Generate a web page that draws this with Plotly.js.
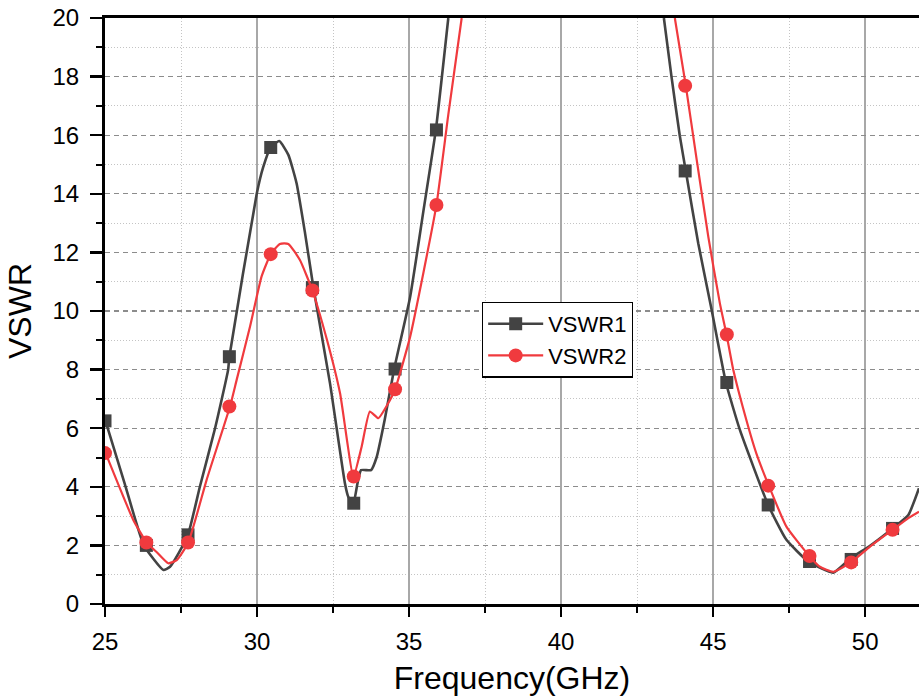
<!DOCTYPE html>
<html>
<head>
<meta charset="utf-8">
<script src="https://cdn.plot.ly/plotly-3.0.1.min.js"></script>
<style>
  html, body { margin: 0; padding: 0; background: #ffffff; }
  #chart { width: 919px; height: 699px; }
</style>
</head>
<body>
<div id="chart"></div>
<script>
// ---- data ----
// VSWR1 curve (null = segment above the plotted range)
const freq1 = [25.0, 25.65, 26.28, 26.92, 27.14, 27.71, 28.12, 28.62, 29.05, 29.09, 29.99, 30.2, 30.45, 30.73, 31.03, 31.3, 31.58, 31.85, 32.4, 32.89, 33.0, 33.17, 33.3, 33.42, 33.75, 33.93, 34.2, 34.51, 35.03, 35.47, 35.88, 36.29,
               null,
               43.38, 43.63, 43.9, 44.1, 44.51, 44.95, 45.42, 45.88, 46.81, 47.41, 48.13, 48.95, 49.5, 50.16, 50.9, 51.42, 51.77];
const vswr1 = [6.3, 4.1, 2.0, 1.16, 1.27, 2.3, 4.0, 6.0, 8.0, 8.44, 14.0, 14.9, 15.58, 15.8, 15.33, 14.36, 12.65, 10.83, 7.53, 4.12, 3.66, 3.44, 4.1, 4.57, 4.57, 5.0, 6.3, 8.02, 10.45, 13.4, 16.18, 20.0,
               null,
               20.0, 18.0, 16.0, 14.78, 12.31, 10.04, 7.56, 5.94, 3.38, 2.19, 1.45, 1.07, 1.54, 1.99, 2.58, 3.04, 3.95];

// VSWR2 curve
const freq2 = [25.0, 25.93, 26.37, 26.72, 27.08, 27.36, 27.74, 28.34, 29.11, 29.33, 29.77, 30.15, 30.45, 30.75, 31.03, 31.41, 31.82, 32.29, 32.73, 33.17, 33.44, 33.71, 33.99, 34.28, 34.54, 35.03, 35.47, 35.9, 36.29, 36.73,
               null,
               43.74, 44.1, 44.46, 44.84, 45.22, 45.44, 45.66, 45.97, 46.42, 46.83, 47.41, 48.16, 48.51, 48.95, 49.53, 50.16, 50.9, 51.42, 51.77];
const vswr2 = [5.2, 2.87, 2.1, 1.75, 1.39, 1.5, 2.1, 4.23, 6.74, 7.65, 9.47, 11.18, 11.94, 12.29, 12.29, 11.74, 10.7, 9.05, 7.19, 4.35, 5.37, 6.57, 6.34, 6.79, 7.33, 9.1, 11.3, 13.62, 16.7, 20.0,
               null,
               20.0, 17.69, 15.16, 12.54, 10.27, 9.2, 8.0, 6.74, 5.14, 4.04, 2.64, 1.64, 1.27, 1.1, 1.42, 1.96, 2.53, 2.93, 3.15];

// marker samples (both series share these frequencies)
const markerFreq = [25.0, 26.36, 27.73, 29.09, 30.45, 31.82, 33.18, 34.54, 35.9, 44.08, 45.45, 46.81, 48.17, 49.54, 50.9];
const markerV1   = [6.25, 2.0, 2.36, 8.44, 15.58, 10.8, 3.44, 8.02, 16.18, 14.78, 7.56, 3.38, 1.45, 1.52, 2.58];
const markerV2   = [5.15, 2.1, 2.1, 6.74, 11.94, 10.7, 4.35, 7.33, 13.62, 17.69, 9.2, 4.04, 1.64, 1.42, 2.53];

const seriesNames = ['VSWR1', 'VSWR2'];
const xTitle = 'Frequency(GHz)';
const yTitle = 'VSWR';

// ---- styles ----
const C1 = '#434343';
const C2 = '#f03a3e';
const FONT = '"Liberation Sans", Arial, sans-serif';
const LINE_SHAPE = { shape: 'spline', smoothing: 0.45 };

const traces = [
  { x: freq1, y: vswr1, mode: 'lines', line: Object.assign({ color: C1, width: 2.6 }, LINE_SHAPE), showlegend: false, hoverinfo: 'skip', connectgaps: false },
  { x: markerFreq, y: markerV1, mode: 'markers', marker: { symbol: 'square', size: 13, color: C1 }, showlegend: false, hoverinfo: 'skip' },
  { x: freq2, y: vswr2, mode: 'lines', line: Object.assign({ color: C2, width: 2.2 }, LINE_SHAPE), showlegend: false, hoverinfo: 'skip', connectgaps: false },
  { x: markerFreq, y: markerV2, mode: 'markers', marker: { symbol: 'circle', size: 14, color: C2 }, showlegend: false, hoverinfo: 'skip' },
  // legend entries
  { x: [null], y: [null], name: seriesNames[0], mode: 'lines+markers', line: { color: C1, width: 2.6 }, marker: { symbol: 'square', size: 13, color: C1 } },
  { x: [null], y: [null], name: seriesNames[1], mode: 'lines+markers', line: { color: C2, width: 2.2 }, marker: { symbol: 'circle', size: 14, color: C2 } }
];

const layout = {
  width: 919, height: 699,
  margin: { l: 105, r: 0, t: 18, b: 95, pad: 0 },
  paper_bgcolor: '#ffffff', plot_bgcolor: '#ffffff',
  font: { family: FONT, color: '#000000', size: 24 },
  showlegend: true,
  legend: {
    x: 0.463, y: 0.451, xanchor: 'left', yanchor: 'middle',
    bgcolor: '#ffffff', bordercolor: '#000000', borderwidth: 1.3,
    font: { family: FONT, size: 22, color: '#000000' },
    itemwidth: 55, tracegroupgap: 0
  },
  xaxis: {
    range: [25, 51.77], tick0: 25, dtick: 5,
    ticks: 'outside', ticklen: 10, tickwidth: 2.5, tickcolor: '#000000',
    showline: true, linewidth: 3, linecolor: '#000000', mirror: true,
    showgrid: true, gridcolor: '#a8a8a8', gridwidth: 1.5,
    zeroline: false,
    tickfont: { family: FONT, size: 24, color: '#000000' },
    ticklabelstandoff: 4,
    minor: { dtick: 2.5, ticks: 'outside', ticklen: 6, tickwidth: 2, tickcolor: '#000000',
             showgrid: true, gridcolor: '#c4c4c4', griddash: '1px,2px', gridwidth: 1 },
    title: { text: xTitle, font: { family: FONT, size: 32, color: '#000000' }, standoff: 13 }
  },
  yaxis: {
    range: [0, 20], tick0: 0, dtick: 2,
    ticks: 'outside', ticklen: 12, tickwidth: 2.5, tickcolor: '#000000',
    showline: true, linewidth: 3, linecolor: '#000000',
    showgrid: true, gridcolor: '#8c8c8c', gridwidth: 1.2, griddash: '5px,4px',
    zeroline: false,
    tickfont: { family: FONT, size: 24, color: '#000000' },
    ticklabelstandoff: 6,
    minor: { dtick: 1, ticks: 'outside', ticklen: 6, tickwidth: 2, tickcolor: '#000000',
             showgrid: true, gridcolor: '#c4c4c4', griddash: '1px,2px', gridwidth: 1 },
    title: { text: yTitle, font: { family: FONT, size: 32, color: '#000000' }, standoff: 12 }
  }
};

Plotly.newPlot('chart', traces, layout, { displayModeBar: false, staticPlot: true });
</script>
</body>
</html>
